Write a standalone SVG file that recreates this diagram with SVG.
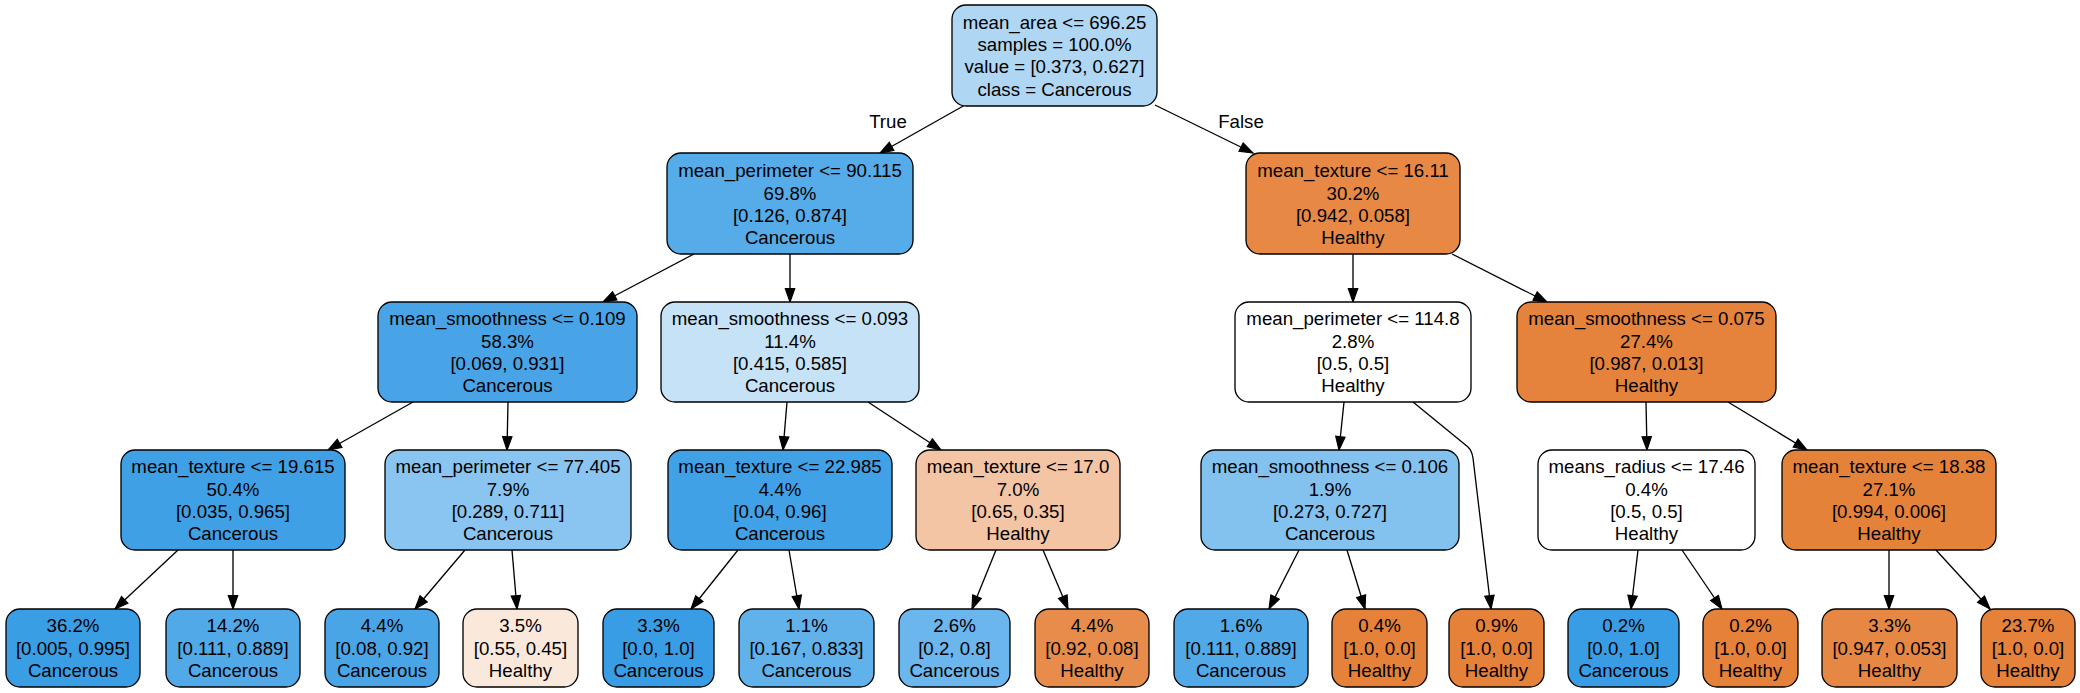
<svg xmlns="http://www.w3.org/2000/svg" width="2080" height="693" viewBox="0 0 2080 693">
<style>
  .n rect { stroke: #000; stroke-width: 1.33; }
  text { font-family: "Liberation Sans", Arial, Helvetica, sans-serif; font-size: 18.67px; fill: #000; text-anchor: middle; }
  .e { fill: none; stroke: #000; stroke-width: 1.33; marker-end: url(#ah); }
</style>
<defs>
  <marker id="ah" markerUnits="userSpaceOnUse" viewBox="0 0 14 10" markerWidth="14" markerHeight="10" refX="13.3" refY="5" orient="auto" overflow="visible">
    <path d="M0,0.33 L13.3,5 L0,9.67 Z" fill="#000" stroke="#000" stroke-width="1.2"/>
  </marker>
</defs>
<rect width="2080" height="693" fill="#fff"/>

<g id="edges">
  <path class="e" d="M965,105 L880,153"/>
  <path class="e" d="M1155,105 L1253,153"/>
  <path class="e" d="M694,254 L603,302"/>
  <path class="e" d="M790,254 L790,302"/>
  <path class="e" d="M1353,254 L1353,302"/>
  <path class="e" d="M1452,254 L1547,302"/>
  <path class="e" d="M413,402 L328,450"/>
  <path class="e" d="M508,402 L507,450"/>
  <path class="e" d="M787,402 L783,450"/>
  <path class="e" d="M868,402 L941,450"/>
  <path class="e" d="M1344,402 L1339,450"/>
  <path class="e" d="M1413,402 L1468,447 Q1472,451 1473,458 L1491,609"/>
  <path class="e" d="M1646,402 L1647,450"/>
  <path class="e" d="M1728,402 L1807,450"/>
  <path class="e" d="M178,550 L115,609"/>
  <path class="e" d="M233,550 L233,609"/>
  <path class="e" d="M465,550 L415,609"/>
  <path class="e" d="M512,550 L517,609"/>
  <path class="e" d="M738,550 L691,609"/>
  <path class="e" d="M789,550 L799,609"/>
  <path class="e" d="M996,550 L972,609"/>
  <path class="e" d="M1043,550 L1068,609"/>
  <path class="e" d="M1299,550 L1269,609"/>
  <path class="e" d="M1347,550 L1365,609"/>
  <path class="e" d="M1638,550 L1631,609"/>
  <path class="e" d="M1682,550 L1722,609"/>
  <path class="e" d="M1889,550 L1889,609"/>
  <path class="e" d="M1936,550 L1990,609"/>
  <text x="888" y="127.5">True</text>
  <text x="1241" y="127.5">False</text>
</g>

<g id="n0" class="n"><rect x="952" y="5" width="205" height="101" rx="14" fill="#afd7f4"/>
  <text x="1054.5" y="28.5">mean_area &lt;= 696.25</text><text x="1054.5" y="51">samples = 100.0%</text><text x="1054.5" y="73">value = [0.373, 0.627]</text><text x="1054.5" y="95.5">class = Cancerous</text></g>

<g id="n1" class="n"><rect x="667" y="153" width="246" height="101" rx="14" fill="#56abe9"/>
  <text x="790" y="177">mean_perimeter &lt;= 90.115</text><text x="790" y="199.5">69.8%</text><text x="790" y="221.5">[0.126, 0.874]</text><text x="790" y="244">Cancerous</text></g>
<g id="n2" class="n"><rect x="1246" y="153" width="214" height="101" rx="14" fill="#e78945"/>
  <text x="1353" y="177">mean_texture &lt;= 16.11</text><text x="1353" y="199.5">30.2%</text><text x="1353" y="221.5">[0.942, 0.058]</text><text x="1353" y="244">Healthy</text></g>

<g id="n3" class="n"><rect x="378" y="302" width="259" height="100" rx="14" fill="#48a4e7"/>
  <text x="507.5" y="325">mean_smoothness &lt;= 0.109</text><text x="507.5" y="347.5">58.3%</text><text x="507.5" y="370">[0.069, 0.931]</text><text x="507.5" y="392">Cancerous</text></g>
<g id="n4" class="n"><rect x="661" y="302" width="258" height="100" rx="14" fill="#c5e2f7"/>
  <text x="790" y="325">mean_smoothness &lt;= 0.093</text><text x="790" y="347.5">11.4%</text><text x="790" y="370">[0.415, 0.585]</text><text x="790" y="392">Cancerous</text></g>
<g id="n5" class="n"><rect x="1235" y="302" width="236" height="100" rx="14" fill="#ffffff"/>
  <text x="1353" y="325">mean_perimeter &lt;= 114.8</text><text x="1353" y="347.5">2.8%</text><text x="1353" y="370">[0.5, 0.5]</text><text x="1353" y="392">Healthy</text></g>
<g id="n6" class="n"><rect x="1517" y="302" width="259" height="100" rx="14" fill="#e5833c"/>
  <text x="1646.5" y="325">mean_smoothness &lt;= 0.075</text><text x="1646.5" y="347.5">27.4%</text><text x="1646.5" y="370">[0.987, 0.013]</text><text x="1646.5" y="392">Healthy</text></g>

<g id="n7" class="n"><rect x="121" y="450" width="224" height="100" rx="14" fill="#40a0e6"/>
  <text x="233" y="473">mean_texture &lt;= 19.615</text><text x="233" y="495.5">50.4%</text><text x="233" y="518">[0.035, 0.965]</text><text x="233" y="540">Cancerous</text></g>
<g id="n8" class="n"><rect x="385" y="450" width="246" height="100" rx="14" fill="#89c5f0"/>
  <text x="508" y="473">mean_perimeter &lt;= 77.405</text><text x="508" y="495.5">7.9%</text><text x="508" y="518">[0.289, 0.711]</text><text x="508" y="540">Cancerous</text></g>
<g id="n9" class="n"><rect x="668" y="450" width="224" height="100" rx="14" fill="#41a1e6"/>
  <text x="780" y="473">mean_texture &lt;= 22.985</text><text x="780" y="495.5">4.4%</text><text x="780" y="518">[0.04, 0.96]</text><text x="780" y="540">Cancerous</text></g>
<g id="n10" class="n"><rect x="916" y="450" width="204" height="100" rx="14" fill="#f3c5a4"/>
  <text x="1018" y="473">mean_texture &lt;= 17.0</text><text x="1018" y="495.5">7.0%</text><text x="1018" y="518">[0.65, 0.35]</text><text x="1018" y="540">Healthy</text></g>
<g id="n11" class="n"><rect x="1201" y="450" width="258" height="100" rx="14" fill="#83c2ef"/>
  <text x="1330" y="473">mean_smoothness &lt;= 0.106</text><text x="1330" y="495.5">1.9%</text><text x="1330" y="518">[0.273, 0.727]</text><text x="1330" y="540">Cancerous</text></g>
<g id="n12" class="n"><rect x="1538" y="450" width="217" height="100" rx="14" fill="#ffffff"/>
  <text x="1646.5" y="473">means_radius &lt;= 17.46</text><text x="1646.5" y="495.5">0.4%</text><text x="1646.5" y="518">[0.5, 0.5]</text><text x="1646.5" y="540">Healthy</text></g>
<g id="n13" class="n"><rect x="1782" y="450" width="214" height="100" rx="14" fill="#e5823a"/>
  <text x="1889" y="473">mean_texture &lt;= 18.38</text><text x="1889" y="495.5">27.1%</text><text x="1889" y="518">[0.994, 0.006]</text><text x="1889" y="540">Healthy</text></g>

<g id="n14" class="n"><rect x="6" y="609" width="134" height="78" rx="14" fill="#3a9ee5"/>
  <text x="73" y="632">36.2%</text><text x="73" y="654.5">[0.005, 0.995]</text><text x="73" y="677">Cancerous</text></g>
<g id="n15" class="n"><rect x="166" y="609" width="134" height="78" rx="14" fill="#52a9e8"/>
  <text x="233" y="632">14.2%</text><text x="233" y="654.5">[0.111, 0.889]</text><text x="233" y="677">Cancerous</text></g>
<g id="n16" class="n"><rect x="325" y="609" width="114" height="78" rx="14" fill="#4aa5e7"/>
  <text x="382" y="632">4.4%</text><text x="382" y="654.5">[0.08, 0.92]</text><text x="382" y="677">Cancerous</text></g>
<g id="n17" class="n"><rect x="463" y="609" width="115" height="78" rx="14" fill="#fae8db"/>
  <text x="520.5" y="632">3.5%</text><text x="520.5" y="654.5">[0.55, 0.45]</text><text x="520.5" y="677">Healthy</text></g>
<g id="n18" class="n"><rect x="603" y="609" width="111" height="78" rx="14" fill="#399de5"/>
  <text x="658.5" y="632">3.3%</text><text x="658.5" y="654.5">[0.0, 1.0]</text><text x="658.5" y="677">Cancerous</text></g>
<g id="n19" class="n"><rect x="739" y="609" width="135" height="78" rx="14" fill="#61b1ea"/>
  <text x="806.5" y="632">1.1%</text><text x="806.5" y="654.5">[0.167, 0.833]</text><text x="806.5" y="677">Cancerous</text></g>
<g id="n20" class="n"><rect x="899" y="609" width="111" height="78" rx="14" fill="#6bb6ec"/>
  <text x="954.5" y="632">2.6%</text><text x="954.5" y="654.5">[0.2, 0.8]</text><text x="954.5" y="677">Cancerous</text></g>
<g id="n21" class="n"><rect x="1035" y="609" width="114" height="78" rx="14" fill="#e78c4a"/>
  <text x="1092" y="632">4.4%</text><text x="1092" y="654.5">[0.92, 0.08]</text><text x="1092" y="677">Healthy</text></g>
<g id="n22" class="n"><rect x="1174" y="609" width="134" height="78" rx="14" fill="#52a9e8"/>
  <text x="1241" y="632">1.6%</text><text x="1241" y="654.5">[0.111, 0.889]</text><text x="1241" y="677">Cancerous</text></g>
<g id="n23" class="n"><rect x="1332" y="609" width="95" height="78" rx="14" fill="#e58139"/>
  <text x="1379.5" y="632">0.4%</text><text x="1379.5" y="654.5">[1.0, 0.0]</text><text x="1379.5" y="677">Healthy</text></g>
<g id="n24" class="n"><rect x="1449" y="609" width="95" height="78" rx="14" fill="#e58139"/>
  <text x="1496.5" y="632">0.9%</text><text x="1496.5" y="654.5">[1.0, 0.0]</text><text x="1496.5" y="677">Healthy</text></g>
<g id="n25" class="n"><rect x="1568" y="609" width="111" height="78" rx="14" fill="#399de5"/>
  <text x="1623.5" y="632">0.2%</text><text x="1623.5" y="654.5">[0.0, 1.0]</text><text x="1623.5" y="677">Cancerous</text></g>
<g id="n26" class="n"><rect x="1703" y="609" width="95" height="78" rx="14" fill="#e58139"/>
  <text x="1750.5" y="632">0.2%</text><text x="1750.5" y="654.5">[1.0, 0.0]</text><text x="1750.5" y="677">Healthy</text></g>
<g id="n27" class="n"><rect x="1822" y="609" width="135" height="78" rx="14" fill="#e68844"/>
  <text x="1889.5" y="632">3.3%</text><text x="1889.5" y="654.5">[0.947, 0.053]</text><text x="1889.5" y="677">Healthy</text></g>
<g id="n28" class="n"><rect x="1981" y="609" width="94" height="78" rx="14" fill="#e58139"/>
  <text x="2028" y="632">23.7%</text><text x="2028" y="654.5">[1.0, 0.0]</text><text x="2028" y="677">Healthy</text></g>
</svg>
